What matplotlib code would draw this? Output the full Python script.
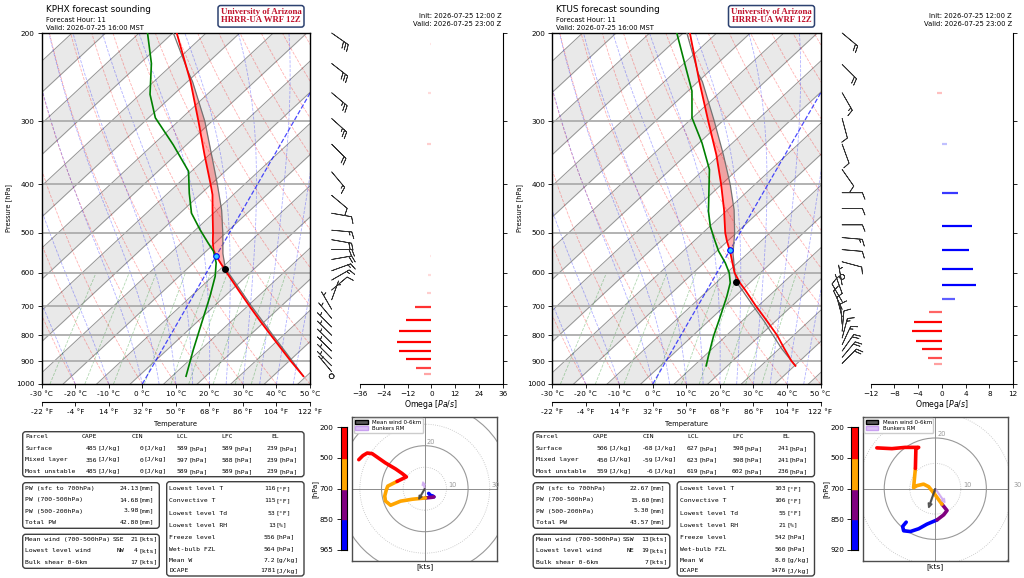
import numpy as np
import matplotlib
matplotlib.use('Agg')
import matplotlib.pyplot as plt
from matplotlib.patches import FancyBboxPatch, Circle, Patch
from matplotlib.ticker import NullLocator

W, H = 1024, 578
SKEW = 37.5      # deg C of shift per ln(1000/p)  (30 deg skew)
BAND = 70.0      # slope of the grey background bands
P_TICKS = [1000, 900, 800, 700, 600, 500, 400, 300, 200]

# ---------------- KPHX ----------------
kphx_t_p = [965, 900, 850, 800, 750, 700, 650, 600, 580, 556, 540, 520, 500, 450, 420, 400, 350, 300, 250, 200]
kphx_t = [46.7, 40.3, 35.3, 30.0, 24.4, 18.6, 12.5, 6.0, 3.3, 0.0, -1.9, -3.5, -4.9, -9.0, -11.6, -14.0, -20.8, -28.4, -37.6, -50.1]
kphx_td_p = [965, 854, 756, 669, 610, 574, 544, 524, 493, 457, 417, 377, 334, 295, 265, 230, 200]
kphx_td = [11.7, 9.3, 7.2, 5.1, 3.2, 1.2, -1.6, -4.6, -9.3, -14.7, -18.8, -22.8, -31.9, -41.9, -47.5, -52.4, -58.8]
kphx_pc_p = [965, 900, 800, 700, 600, 589, 550, 500, 450, 400, 350, 300, 250, 239, 200]
kphx_pc = [46.7, 40.8, 30.6, 19.2, 6.5, 4.9, 1.6, -2.0, -6.3, -12.0, -18.7, -26.5, -37.0, -40.0, -51.1]
kphx_lcl = [589, 4.9]
kphx_fzl = [556, 0.0]

kphx_barb_p = [200, 230, 263, 296, 333, 378, 421, 457, 494, 516, 540, 565, 595, 621, 650, 680, 710, 740, 770, 800, 830, 860, 890, 920, 945, 965]
kphx_barb_dir = [125, 128, 130, 132, 135, 140, 130, 100, 95, 100, 90, 80, 70, 60, 50, 20, 330, 320, 315, 315, 315, 315, 315, 315, 320, 315]
kphx_barb_spd = [30, 30, 25, 25, 20, 15, 10, 10, 15, 20, 20, 20, 15, 15, 10, 5, 5, 5, 5, 5, 5, 5, 5, 5, 5, 2]

kphx_omega_p = [210, 263, 333, 555, 608, 658, 703, 746, 784, 823, 859, 893, 928, 957]
kphx_omega = [-0.5, -1.5, -2.0, -0.5, -1.5, -2.0, -8.5, -13.0, -16.3, -17.5, -16.5, -13.0, -7.8, -3.7]

kphx_hodo_u = [1.8, 2.6, 3.7, 4.2, 3.4, 0.3, -5.8, -11.2, -15.8, -18.2, -18.5, -17.8, -17.1,
               -12.8, -8.5, -10.5, -13.5, -18.2, -24.3, -26.6, -28.6, -30.5]
kphx_hodo_v = [-2.2, -3.1, -3.4, -3.8, -4.0, -4.3, -4.9, -5.8, -7.7, -5.7, -3.4, -0.6, 1.2,
               3.4, 5.5, 7.1, 9.2, 12.0, 16.3, 16.6, 15.4, 13.5]
kphx_hodo_layer = [0, 0, 0, 1, 1, 2, 2, 2, 2, 2, 2, 2, 2,
                   3, 3, 3, 3, 3, 3, 3, 3, 3]
kphx_mean_wind = [-2.8, -4.9]
kphx_bunkers = [-0.9, 3.2]

kphx_parcels = [['Surface', '485', '0', '589', '589', '239'],
                ['Mixed layer', '356', '0', '597', '588', '239'],
                ['Most unstable', '485', '0', '589', '589', '239']]
kphx_pw = ['24.13', '14.68', '3.98', '42.80']
kphx_wind_dir = ['SSE', 'NW', '']
kphx_wind_spd = ['21', '4', '17']
kphx_misc = ['116', '115', '53', '13', '556', '564', '7.2', '1781']

# ---------------- KTUS ----------------
ktus_t_p = [920, 900, 850, 800, 750, 700, 650, 629, 600, 542, 520, 500, 450, 400, 350, 300, 250, 200]
ktus_t = [39.4, 37.4, 33.1, 28.7, 23.3, 17.4, 11.4, 8.6, 5.2, 0.0, -2.4, -4.4, -8.7, -14.0, -20.4, -28.6, -38.1, -49.3]
ktus_td_p = [920, 881, 804, 733, 669, 629, 601, 574, 544, 516, 485, 453, 374, 331, 295, 261, 230, 200]
ktus_td = [12.8, 11.8, 9.9, 8.5, 7.0, 5.7, 3.7, 0.8, -3.2, -6.4, -10.0, -13.1, -20.0, -26.8, -34.1, -38.7, -45.6, -53.2]
ktus_pc_p = [920, 850, 750, 700, 650, 627, 600, 550, 500, 450, 400, 350, 300, 250, 241, 200]
ktus_pc = [39.4, 32.3, 22.4, 16.6, 10.5, 7.4, 5.3, 1.5, -1.6, -5.7, -11.3, -18.3, -26.8, -37.2, -39.8, -50.2]
ktus_lcl = [627, 7.4]
ktus_fzl = [542, 0.0]

ktus_barb_p = [200, 231, 263, 296, 333, 374, 416, 447, 482, 511, 540, 571, 612, 635, 660, 685, 710, 735, 760, 785, 810, 835, 860, 885, 910]
ktus_barb_dir = [130, 135, 150, 165, 160, 145, 90, 90, 90, 95, 95, 105, 0, 350, 340, 330, 335, 345, 355, 5, 15, 25, 35, 40, 45]
ktus_barb_spd = [20, 20, 15, 12, 10, 10, 10, 10, 10, 15, 10, 10, 2, 5, 5, 10, 10, 10, 10, 10, 15, 15, 20, 20, 20]

ktus_omega_p = [263, 333, 416, 485, 542, 591, 635, 677, 718, 752, 786, 821, 853, 886, 912]
ktus_omega = [-0.86, 0.86, 2.7, 5.0, 4.5, 5.3, 5.8, 2.2, -2.1, -4.7, -5.0, -4.3, -3.3, -2.4, -1.3]

ktus_hodo_u = [-11.4, -12.8, -12.4, -9.8, -6.5, -3.3, 0.7, 3.3, 4.6,
               2.6, 0.0, -2.6, -4.6, -7.2, -8.5, -7.8, -7.6, -6.5, -11.8, -17.0, -22.9]
ktus_hodo_v = [-13.2, -14.9, -16.6, -16.9, -15.8, -14.0, -12.3, -10.3, -8.6,
               -6.1, -2.5, 0.8, 1.8, 1.2, 0.4, 8.0, 15.8, 16.3, 16.3, 15.8, 16.1]
ktus_hodo_layer = [0, 0, 0, 0, 0, 0, 1, 1, 1,
                   2, 2, 2, 2, 2, 2, 3, 3, 3, 3, 3, 3]
ktus_mean_wind = [-2.6, -7.5]
ktus_bunkers = [3.8, -5.5]

ktus_parcels = [['Surface', '506', '-68', '627', '598', '241'],
                ['Mixed layer', '450', '-59', '623', '598', '241'],
                ['Most unstable', '559', '-6', '619', '602', '236']]
ktus_pw = ['22.67', '15.60', '5.30', '43.57']
ktus_wind_dir = ['SSW', 'NE', '']
ktus_wind_spd = ['13', '19', '7']
ktus_misc = ['103', '106', '55', '21', '542', '560', '8.0', '1476']

pw_labels = ['PW (sfc to 700hPa)', 'PW (700-500hPa)', 'PW (500-200hPa)', 'Total PW']
wind_labels = ['Mean wind (700-500hPa)', 'Lowest level wind', 'Bulk shear 0-6km']
misc_labels = ['Lowest level T', 'Convective T', 'Lowest level Td', 'Lowest level RH',
               'Freeze level', 'Wet-bulb FZL', 'Mean W', 'DCAPE']
misc_units = ['[°F]', '[°F]', '[°F]', '[%]', '[hPa]', '[hPa]', '[g/kg]', '[J/kg]']

plt.rcParams['font.family'] = 'DejaVu Sans'
fig = plt.figure(figsize=(W / 100, H / 100), dpi=100)
ov = fig.add_axes([0, 0, 1, 1], zorder=-5)
ov.set_xlim(0, W)
ov.set_ylim(H, 0)
ov.axis('off')
MONO = 'DejaVu Sans Mono'


def px_axes(x0, y0, x1, y1):
    return fig.add_axes([x0 / W, 1 - y1 / H, (x1 - x0) / W, (y1 - y0) / H])


def skx(t, p):
    return np.asarray(t, float) + SKEW * np.log(1000.0 / np.asarray(p, float))


def moist_adiabat(t0, p):
    def dtdp(T, pp):
        es = 6.112 * np.exp(17.67 * (T - 273.15) / (T - 29.65))
        rs = 0.622 * es / (pp - es)
        return (287.04 * T + 2.501e6 * rs) / (pp * (1005.7 + 2.501e6 ** 2 * rs * 0.622 / (287.04 * T * T)))
    T = np.empty_like(p)
    T[0] = t0 + 273.15
    for i in range(1, len(p)):
        dp = p[i] - p[i - 1]
        k1 = dtdp(T[i - 1], p[i - 1])
        k2 = dtdp(T[i - 1] + k1 * dp / 2, p[i - 1] + dp / 2)
        T[i] = T[i - 1] + k2 * dp
    return T - 273.15


def log_p_axis(a):
    a.set_yscale('log')
    a.set_ylim(1000, 200)
    a.yaxis.set_minor_locator(NullLocator())


def draw_skewt(ax, d):
    log_p_axis(ax)
    ax.set_xlim(-30, 50)
    pp = np.array([1000.0, 200.0])
    lnp = np.log(1000.0 / pp)
    for b in np.arange(-193.6, 60, 20):
        ax.fill_betweenx(pp, b + BAND * lnp, b + 10 + BAND * lnp, color='0.915', lw=0, zorder=0)
    for b in np.arange(-193.6, 70, 10):
        ax.plot(b + BAND * lnp, pp, color='0.58', lw=0.7, zorder=0.5)
    p_bg = np.linspace(1000, 200, 81)
    for th in np.arange(-30, 200, 10):
        tt = (th + 273.15) * (p_bg / 1000.0) ** 0.2857 - 273.15
        ax.plot(skx(tt, p_bg), p_bg, color='red', ls='--', lw=0.6, alpha=0.3, zorder=1)
    for t0 in [-30, -20, -10, 0, 5, 10, 15, 20, 25, 30, 35, 40, 45]:
        ax.plot(skx(moist_adiabat(t0, p_bg), p_bg), p_bg, color='blue', ls='--', lw=0.6, alpha=0.3, zorder=1)
    p_mx = np.linspace(1000, 600, 21)
    for w in [0.0004, 0.001, 0.002, 0.004, 0.007, 0.01, 0.016, 0.024, 0.032]:
        e = p_mx * w / (0.622 + w)
        le = np.log(e / 6.112)
        ax.plot(skx(243.5 * le / (17.67 - le), p_mx), p_mx, color='green', ls='--', lw=0.6, alpha=0.3, zorder=1)
    ax.plot(skx([0, 0], pp), pp, color='blue', ls='--', lw=0.9, alpha=0.7, zorder=1.5)
    for p in P_TICKS[1:-1]:
        ax.axhline(p, color='0.68', lw=1.3, zorder=1.2)

    t_p = np.array(d['t_p'], float)
    pc_p = np.array(d['pc_p'], float)
    p_all = np.union1d(t_p, pc_p)
    t_i = np.interp(np.log(p_all), np.log(t_p[::-1]), np.array(d['t'])[::-1])
    pc_i = np.interp(np.log(p_all), np.log(pc_p[::-1]), np.array(d['pc'])[::-1])
    ax.fill_betweenx(p_all, skx(t_i, p_all), skx(pc_i, p_all), where=pc_i >= t_i,
                     interpolate=True, color='red', alpha=0.3, lw=0, zorder=3)
    ax.plot(skx(d['pc'], pc_p), pc_p, color='0.45', lw=0.9, zorder=4)
    ax.plot(skx(d['t'], t_p), t_p, color='red', lw=1.3, zorder=5)
    ax.plot(skx(d['td'], d['td_p']), d['td_p'], color='green', lw=1.2, zorder=5)
    ax.plot(skx(d['lcl'][1], d['lcl'][0]), d['lcl'][0], 'o', color='black', ms=4, zorder=6)
    ax.plot(skx(d['fzl'][1], d['fzl'][0]), d['fzl'][0], 'o', mfc='#33ccff', mec='blue', ms=4, mew=0.8, zorder=6)

    ax.set_yticks(P_TICKS)
    ax.set_yticklabels([str(p) for p in P_TICKS])
    ax.yaxis.set_minor_locator(NullLocator())
    ax.set_xticks(range(-30, 51, 10))
    ax.set_xticklabels(['%d °C' % c for c in range(-30, 51, 10)])
    ax.tick_params(labelsize=5.2, length=3, width=0.6, pad=2)
    for s in ax.spines.values():
        s.set_linewidth(1.0)
    sec = ax.secondary_xaxis(-0.0504, functions=(lambda c: c * 9 / 5 + 32, lambda f: (f - 32) * 5 / 9))
    f_ticks = [-22, -4, 14, 32, 50, 68, 86, 104, 122]
    sec.set_xticks(f_ticks)
    sec.set_xticklabels(['%d °F' % f for f in f_ticks])
    sec.tick_params(labelsize=5.2, length=3, width=0.6, pad=2)
    ax.set_ylabel('Pressure [hPa]', fontsize=4.8, labelpad=3)


def draw_barbs(bx, d):
    log_p_axis(bx)
    bx.set_xlim(0, 1)
    bx.axis('off')
    rad = np.radians(d['barb_dir'])
    spd = np.array(d['barb_spd'], float)
    u = -spd * np.sin(rad)
    v = -spd * np.cos(rad)
    # polygon size in matplotlib barbs grows with length**2
    bx.barbs(np.full(len(spd), 0.37), d['barb_p'], u, v, length=5.4, lw=0.55, color='0.2',
             clip_on=False, sizes=dict(height=0.32, spacing=0.14, emptybarb=0.12))


def draw_omega(ox, d):
    log_p_axis(ox)
    lim = d['om_lim']
    ox.set_xlim(-lim, lim)
    om = np.array(d['omega'])
    top = 0.6 * np.abs(om).max()
    for p, w in zip(d['omega_p'], om):
        a = float(np.clip(abs(w) / top, 0.1, 1.0))
        ox.hlines(p, 0, w, color='red' if w < 0 else 'blue', alpha=a, lw=1.6)
    ox.spines['left'].set_visible(False)
    ox.spines['top'].set_visible(False)
    ox.yaxis.tick_right()
    ox.set_yticks(P_TICKS)
    ox.set_yticklabels([])
    ox.yaxis.set_minor_locator(NullLocator())
    ox.set_xticks(np.arange(-lim, lim + 1, lim / 3))
    ox.tick_params(labelsize=5.2, length=3, width=0.6, pad=2)
    ox.set_xlabel('Omega [$Pa/s$]', fontsize=5.6, labelpad=1)


def draw_hodo(hx, cx, d):
    r = d['hodo_lim']
    hx.set_xlim(-r, r)
    hx.set_ylim(-r, r)
    hx.set_xticks([])
    hx.set_yticks([])
    for ring in (10, 20, 30, 40):
        dotted = ring % 20 != 0
        hx.add_patch(Circle((0, 0), ring, fill=False, ls=':' if dotted else '-',
                            color='0.75' if dotted else '0.6', lw=0.6 if dotted else 0.8))
    for ring in (10, 30):
        hx.text(ring + 0.8, 0.4, str(ring), fontsize=4.8, color='0.6', va='bottom')
    hx.text(0.8, 20.4, '20', fontsize=4.8, color='0.6', va='bottom')
    hx.axhline(0, color='0.55', lw=0.7)
    hx.axvline(0, color='0.55', lw=0.7)
    u = np.array(d['hodo_u'])
    v = np.array(d['hodo_v'])
    lay = np.array(d['hodo_layer'])
    cols = ['blue', 'purple', 'orange', 'red']
    for k, col in enumerate(cols):
        idx = list(np.where(lay == k)[0])
        if idx[-1] + 1 < len(u):
            idx.append(idx[-1] + 1)
        hx.plot(u[idx], v[idx], color=col, lw=2.6, solid_capstyle='round', zorder=3)
    mw = d['mean_wind']
    bk = d['bunkers']
    hx.arrow(0, 0, bk[0], bk[1], width=0.35, head_width=1.6, head_length=1.6,
             length_includes_head=True, color='#c9a0f0', alpha=0.7, zorder=4)
    hx.arrow(0, 0, mw[0], mw[1], width=0.35, head_width=1.6, head_length=1.8,
             length_includes_head=True, color='0.25', alpha=0.8, zorder=5)
    hx.legend(handles=[Patch(facecolor='0.35', edgecolor='k', label='Mean wind 0-6km'),
                       Patch(facecolor='#dcc0f5', edgecolor='#c9a0f0', label='Bunkers RM')],
              loc='upper left', fontsize=4.0, borderpad=0.3, handlelength=2.2, handleheight=0.8,
              labelspacing=0.2, borderaxespad=0.25, framealpha=1, edgecolor='0.8')
    for s in hx.spines.values():
        s.set_linewidth(1.0)
        s.set_color('0.3')

    cx.set_xlim(0, 1)
    cx.set_ylim(0, 4)
    for k, col in enumerate(cols):
        cx.axhspan(k, k + 1, color=col)
    cx.set_xticks([])
    cx.set_yticks([0, 1, 2, 3, 4])
    cx.set_yticklabels([d['sfc'], '850', '700', '500', '200'])
    cx.tick_params(labelsize=5.2, length=3, width=0.6, pad=2)
    cx.set_ylabel('[hPa]', fontsize=5, labelpad=1)


def box(x0, y0, x1, y1):
    ov.add_patch(FancyBboxPatch((x0, y0), x1 - x0, y1 - y0, boxstyle='round,pad=0,rounding_size=3',
                                fc='white', ec='0.25', lw=1.0))


def txt(x, y, s, **kw):
    kw.setdefault('fontsize', 4.6)
    kw.setdefault('family', MONO)
    ov.text(x, y, s, va='center', **kw)


def draw_tables(off, d):
    # parcel table
    box(off + 22.7, 431.7, off + 304, 476.7)
    heads = ['Parcel', 'CAPE', 'CIN', 'LCL', 'LFC', 'EL']
    head_x = [25.3, 81.7, 131.7, 176.7, 221.7, 271.7]
    for hx_, h in zip(head_x, heads):
        txt(off + hx_, 436.7, h)
    num_x = [97.5, 143.3, 188.2, 233.2, 278.2]
    units = ['[J/kg]', '[J/kg]', '[hPa]', '[hPa]', '[hPa]']
    for row, y in zip(d['parcels'], [448.7, 460.0, 471.7]):
        txt(off + 25.3, y, row[0])
        for nx, val, un in zip(num_x, row[1:], units):
            txt(off + nx, y, val, ha='right')
            txt(off + nx, y, un, ha='left')
    # precipitable water
    box(off + 22.7, 482.7, off + 159.3, 528.3)
    for lab, val, y in zip(pw_labels, d['pw'], [488.3, 500.0, 511.0, 522.3]):
        txt(off + 25.3, y, lab)
        txt(off + 138.6, y, val, ha='right')
        txt(off + 138.6, y, '[mm]', ha='left')
    # winds
    box(off + 22.7, 534.3, off + 159.3, 568.3)
    for lab, dr, sp, y in zip(wind_labels, d['wind_dir'], d['wind_spd'], [539.3, 550.7, 562.3]):
        txt(off + 25.3, y, lab)
        txt(off + 124.0, y, dr, ha='right')
        txt(off + 138.0, y, sp, ha='right')
        txt(off + 138.0, y, '[kts]', ha='left')
    # misc
    box(off + 166.7, 481.7, off + 304, 576)
    for lab, val, un, y in zip(misc_labels, d['misc'], misc_units,
                               [489.0, 501.0, 513.3, 525.3, 537.3, 549.3, 560.7, 571.0]):
        txt(off + 169.3, y, lab)
        txt(off + 275.5, y, val, ha='right')
        txt(off + 275.5, y, un, ha='left')


def draw_panel(off, d):
    txt(off + 45.7, 9.5, d['name'] + ' forecast sounding', fontsize=6.3, family='DejaVu Sans')
    txt(off + 45.7, 20.0, 'Forecast Hour: 11', fontsize=4.9, family='DejaVu Sans')
    txt(off + 45.7, 27.7, 'Valid: 2026-07-25 16:00 MST', fontsize=4.9, family='DejaVu Sans')
    ov.text(off + 261, 16.3, 'University of Arizona\nHRRR-UA WRF 12Z', ha='center', va='center',
            fontsize=6.3, family='Liberation Serif', weight='bold', color='#c0122c', linespacing=1.05,
            bbox=dict(boxstyle='round,pad=0.3', fc='white', ec='#2c4170', lw=1.1))
    txt(off + 501.7, 16.0, 'Init: 2026-07-25 12:00 Z', fontsize=4.9, family='DejaVu Sans', ha='right')
    txt(off + 501.7, 24.3, 'Valid: 2026-07-25 23:00 Z', fontsize=4.9, family='DejaVu Sans', ha='right')
    txt(off + 176.0, 424.0, 'Temperature', fontsize=4.9, family='DejaVu Sans', ha='center')
    ov.text(off + 424.8, 567.0, '[kts]', ha='center', va='center', fontsize=5.4)

    ax = px_axes(off + 41.7, 33, off + 310, 384)
    draw_skewt(ax, d)
    bx = px_axes(off + 315, 33, off + 360, 384)
    draw_barbs(bx, d)
    ox = px_axes(off + 360, 33, off + 502.7, 384)
    draw_omega(ox, d)
    hx = px_axes(off + 352.3, 416.7, off + 497.3, 560.7)
    cx = px_axes(off + 340.7, 427.3, off + 347.3, 550)
    draw_hodo(hx, cx, d)
    draw_tables(off, d)


kphx = dict(name='KPHX', t_p=kphx_t_p, t=kphx_t, td_p=kphx_td_p, td=kphx_td, pc_p=kphx_pc_p, pc=kphx_pc,
            lcl=kphx_lcl, fzl=kphx_fzl, barb_p=kphx_barb_p, barb_dir=kphx_barb_dir, barb_spd=kphx_barb_spd,
            omega_p=kphx_omega_p, omega=kphx_omega, om_lim=36, hodo_u=kphx_hodo_u, hodo_v=kphx_hodo_v,
            hodo_layer=kphx_hodo_layer, mean_wind=kphx_mean_wind, bunkers=kphx_bunkers, hodo_lim=33.5,
            sfc='965', parcels=kphx_parcels, pw=kphx_pw, wind_dir=kphx_wind_dir, wind_spd=kphx_wind_spd,
            misc=kphx_misc)
ktus = dict(name='KTUS', t_p=ktus_t_p, t=ktus_t, td_p=ktus_td_p, td=ktus_td, pc_p=ktus_pc_p, pc=ktus_pc,
            lcl=ktus_lcl, fzl=ktus_fzl, barb_p=ktus_barb_p, barb_dir=ktus_barb_dir, barb_spd=ktus_barb_spd,
            omega_p=ktus_omega_p, omega=ktus_omega, om_lim=12, hodo_u=ktus_hodo_u, hodo_v=ktus_hodo_v,
            hodo_layer=ktus_hodo_layer, mean_wind=ktus_mean_wind, bunkers=ktus_bunkers, hodo_lim=28.4,
            sfc='920', parcels=ktus_parcels, pw=ktus_pw, wind_dir=ktus_wind_dir, wind_spd=ktus_wind_spd,
            misc=ktus_misc)

draw_panel(0, kphx)
draw_panel(510.5, ktus)

fig.savefig('out.png', dpi=100)
